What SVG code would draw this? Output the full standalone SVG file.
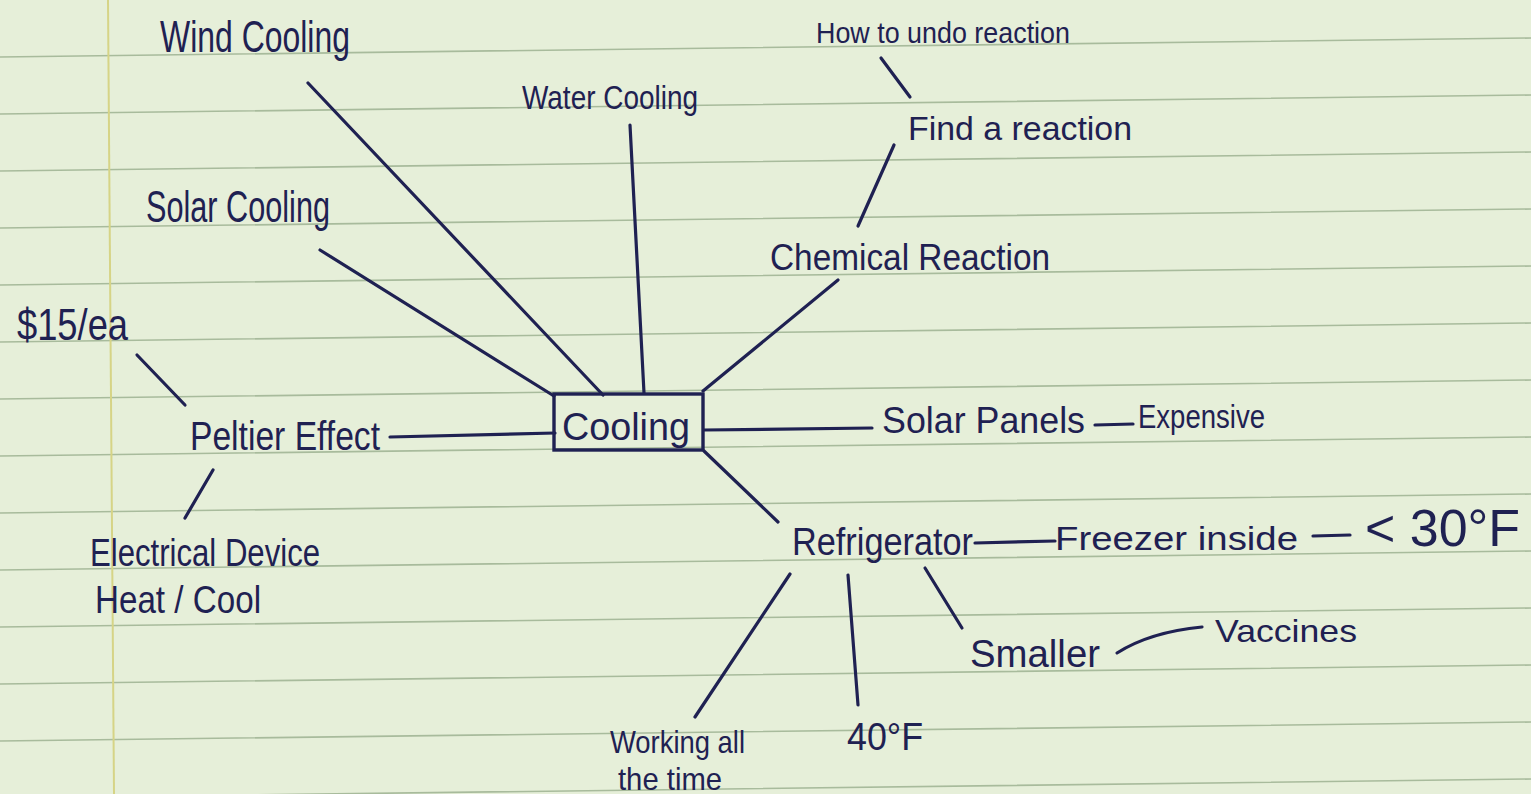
<svg xmlns="http://www.w3.org/2000/svg" width="1531" height="794" viewBox="0 0 1531 794">
<style>
.rule{stroke:#a8bb9c;stroke-width:1.6;fill:none}
.margin{stroke:#d6d486;stroke-width:2;fill:none}
.c{stroke:#1f2152;stroke-width:3.2;fill:none;stroke-linecap:round}
.t{font-family:"Liberation Sans","DejaVu Sans",sans-serif;fill:#1f2152}
.box{stroke:#1f2152;stroke-width:3.4;fill:none}
</style>
<rect x="0" y="0" width="1531" height="794" fill="#e6efd9"/>
<g id="paper">
<path class="rule" d="M0,57 L1531,38 M0,114 L1531,95 M0,171 L1531,152 M0,228 L1531,209 M0,285 L1531,266 M0,342 L1531,323 M0,399 L1531,380 M0,456 L1531,437 M0,513 L1531,494 M0,570 L1531,551 M0,627 L1531,608 M0,684 L1531,665 M0,741 L1531,722 M0,798 L1531,779"/>
<path class="margin" d="M108,0 L114,794"/>
</g>
<g id="connectors">
<line class="c" x1="308" y1="83" x2="603" y2="395"/>
<line class="c" x1="630" y1="125" x2="644" y2="393"/>
<line class="c" x1="320" y1="250" x2="554" y2="396"/>
<line class="c" x1="838" y1="280" x2="703" y2="391"/>
<line class="c" x1="894" y1="145" x2="858" y2="226"/>
<line class="c" x1="881" y1="58" x2="910" y2="97"/>
<line class="c" x1="137" y1="355" x2="185" y2="405"/>
<line class="c" x1="390" y1="437" x2="555" y2="433"/>
<line class="c" x1="213" y1="470" x2="185" y2="518"/>
<line class="c" x1="704" y1="430" x2="872" y2="428"/>
<line class="c" x1="1095" y1="425" x2="1133" y2="424"/>
<line class="c" x1="704" y1="451" x2="778" y2="522"/>
<line class="c" x1="975" y1="543" x2="1055" y2="541"/>
<line class="c" x1="1313" y1="536" x2="1350" y2="535"/>
<line class="c" x1="925" y1="568" x2="962" y2="628"/>
<path class="c" d="M1117,653 Q1150,632 1202,627"/>
<line class="c" x1="848" y1="575" x2="858" y2="705"/>
<line class="c" x1="790" y1="574" x2="695" y2="717"/>
</g>
<g id="cooling">
<rect class="box" x="554" y="394" width="149" height="56"/>
<text class="t" x="562" y="440" font-size="38" textLength="128" lengthAdjust="spacingAndGlyphs">Cooling</text>
</g>
<g id="wind-cooling"><text class="t" x="160" y="52" font-size="44" textLength="190" lengthAdjust="spacingAndGlyphs">Wind Cooling</text></g>
<g id="water-cooling"><text class="t" x="522" y="109" font-size="34" textLength="176" lengthAdjust="spacingAndGlyphs">Water Cooling</text></g>
<g id="solar-cooling"><text class="t" x="146" y="222" font-size="44" textLength="184" lengthAdjust="spacingAndGlyphs">Solar Cooling</text></g>
<g id="how-to-undo"><text class="t" x="816" y="43" font-size="30" textLength="254" lengthAdjust="spacingAndGlyphs">How to undo reaction</text></g>
<g id="find-reaction"><text class="t" x="908" y="140" font-size="34" textLength="224" lengthAdjust="spacingAndGlyphs">Find a reaction</text></g>
<g id="chemical-reaction"><text class="t" x="770" y="270" font-size="36" textLength="280" lengthAdjust="spacingAndGlyphs">Chemical Reaction</text></g>
<g id="price"><text class="t" x="17" y="340" font-size="44" textLength="111" lengthAdjust="spacingAndGlyphs">$15/ea</text></g>
<g id="peltier"><text class="t" x="190" y="450" font-size="40" textLength="190" lengthAdjust="spacingAndGlyphs">Peltier Effect</text></g>
<g id="electrical">
<text class="t" x="90" y="566" font-size="38" textLength="230" lengthAdjust="spacingAndGlyphs">Electrical Device</text>
<text class="t" x="95" y="613" font-size="38" textLength="166" lengthAdjust="spacingAndGlyphs">Heat / Cool</text>
</g>
<g id="solar-panels"><text class="t" x="882" y="433" font-size="36" textLength="203" lengthAdjust="spacingAndGlyphs">Solar Panels</text></g>
<g id="expensive"><text class="t" x="1138" y="428" font-size="34" textLength="127" lengthAdjust="spacingAndGlyphs">Expensive</text></g>
<g id="refrigerator"><text class="t" x="792" y="555" font-size="38" textLength="181" lengthAdjust="spacingAndGlyphs">Refrigerator</text></g>
<g id="freezer"><text class="t" x="1055" y="550" font-size="34" textLength="243" lengthAdjust="spacingAndGlyphs">Freezer inside</text></g>
<g id="below-30"><text class="t" x="1365" y="546" font-size="52" textLength="155" lengthAdjust="spacingAndGlyphs">&lt; 30°F</text></g>
<g id="smaller"><text class="t" x="970" y="667" font-size="38" textLength="130" lengthAdjust="spacingAndGlyphs">Smaller</text></g>
<g id="vaccines"><text class="t" x="1215" y="642" font-size="32" textLength="142" lengthAdjust="spacingAndGlyphs">Vaccines</text></g>
<g id="forty"><text class="t" x="847" y="750" font-size="38" textLength="76" lengthAdjust="spacingAndGlyphs">40°F</text></g>
<g id="working">
<text class="t" x="610" y="753" font-size="32" textLength="135" lengthAdjust="spacingAndGlyphs">Working all</text>
<text class="t" x="618" y="790" font-size="32" textLength="104" lengthAdjust="spacingAndGlyphs">the time</text>
</g>
</svg>
